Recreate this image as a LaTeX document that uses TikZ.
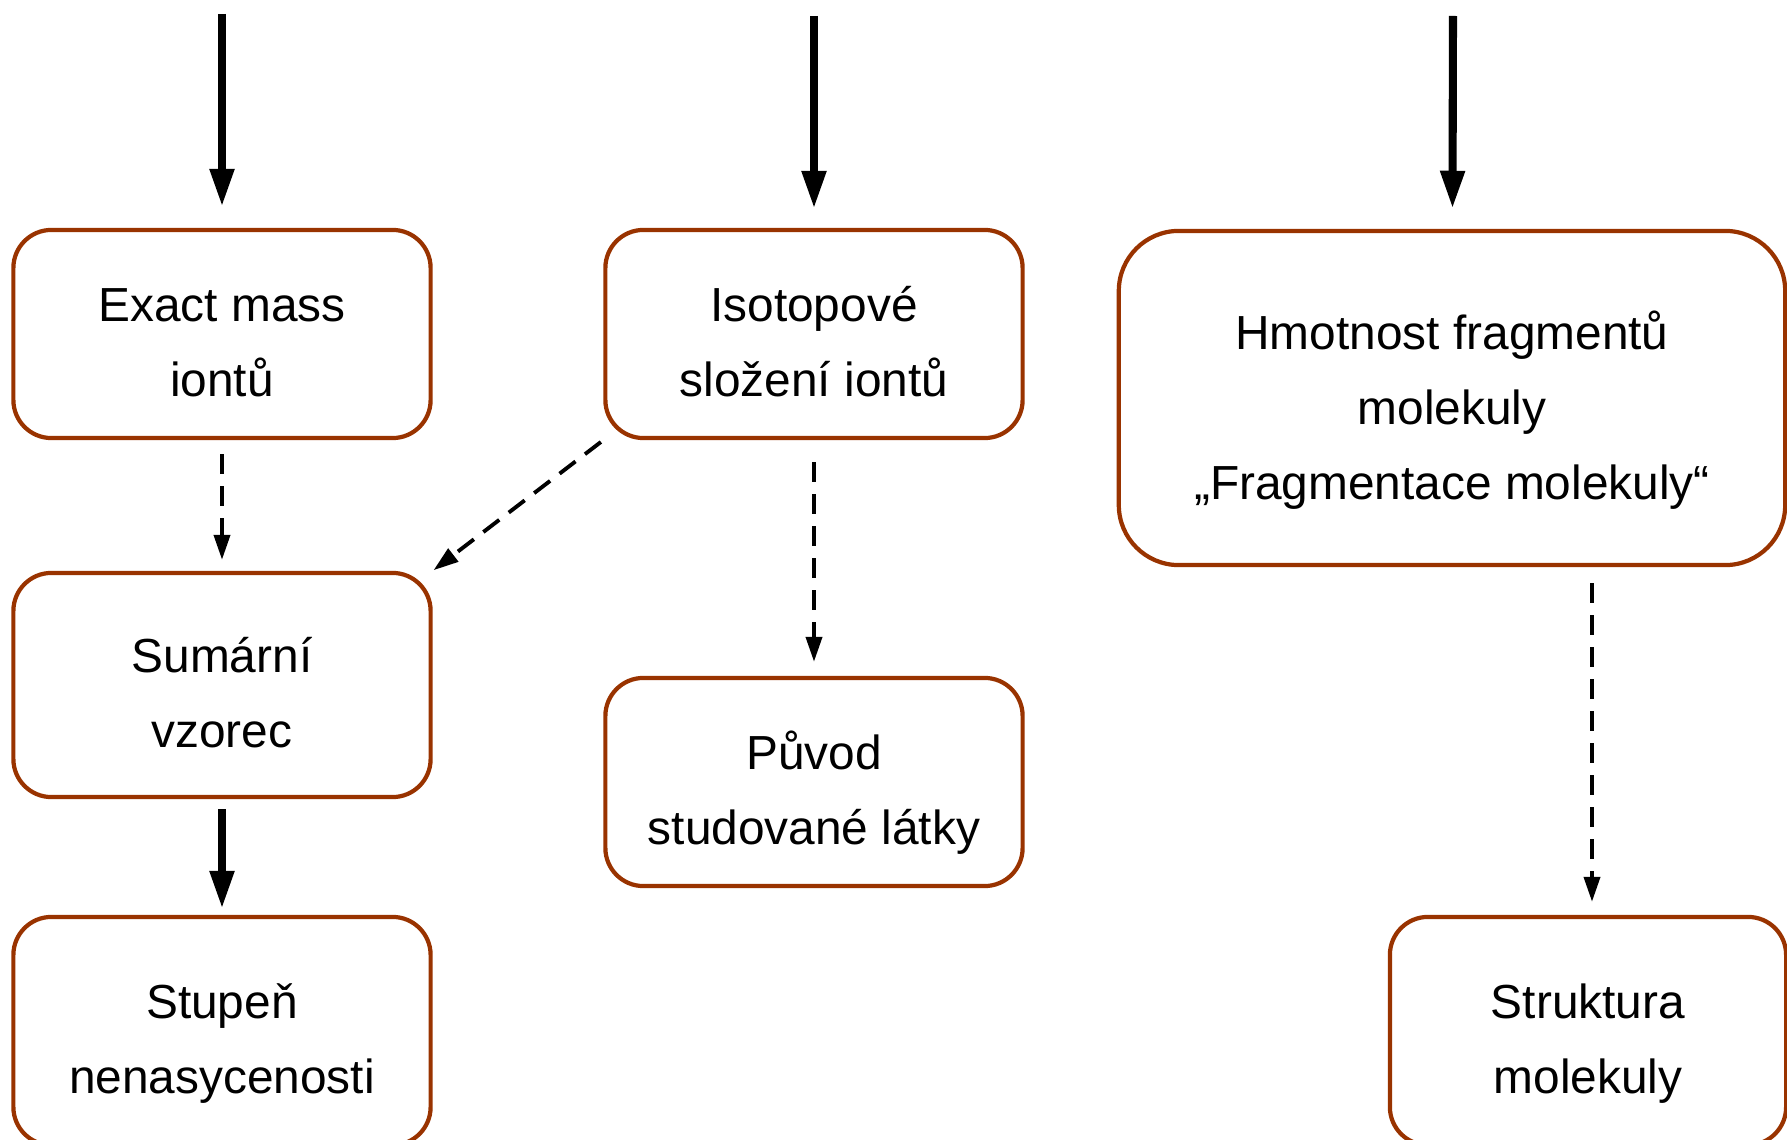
\documentclass[tikz,border=0pt]{standalone}
\usepackage{fontspec}
\setmainfont{Liberation Sans}
\usetikzlibrary{arrows.meta}
\definecolor{boxbrown}{RGB}{153,51,0}

\begin{document}
\begin{tikzpicture}[x=0.01cm,y=-0.01cm,
	main arrow/.style={-{Triangle[width=0.23cm,length=0.38cm]},line width=2.3pt},
	hint arrow/.style={-{Triangle[width=0.16cm,length=0.25cm]},line width=1.1pt,dash pattern=on 5.7pt off 3.4pt}]
	\useasboundingbox (0,0) rectangle (1787,1140);
	\begin{scope}[node font=\fontsize{13.6}{21.3}\selectfont]
		\begin{scope}[every node/.style={draw=boxbrown,line width=1.2pt,rounded corners=0.38cm,align=center,inner sep=0pt,minimum width=4.17cm,minimum height=2.08cm,text height=35.5pt,text depth=0pt}]
			\node (mass) at (222,334) {Exact mass\\iontů};
			\node (izotop) at (814,334) {Isotopové\\složení iontů};
			\node[minimum width=6.66cm,minimum height=3.34cm,rounded corners=0.6cm,text height=57.5pt] (frag) at (1452,398) {Hmotnost fragmentů\\molekuly\\„Fragmentace molekuly“};
			\node[minimum height=2.24cm] (vzorec) at (222,685) {Sumární\\vzorec};
			\node (puvod) at (814,782) {Původ\\studované látky};
			\node[minimum height=2.28cm] (stupen) at (222,1031) {Stupeň\\nenasycenosti};
			\node[minimum width=3.96cm,minimum height=2.28cm] (struktura) at (1588,1031) {Struktura\\molekuly};
		\end{scope}
		
		\coordinate (in1) at (222,14);
		\coordinate (in2) at (814,16);
		\coordinate (in3) at (1453,16);
	
		\path[main arrow] (in1) edge[shorten >=0.21cm] (mass);
		\path[main arrow] (in2) edge[shorten >=0.19cm] (izotop);
		\path[main arrow] (in3) edge[shorten >=0.20cm] (frag);
		\path[hint arrow] (mass) edge[shorten <=0.14cm,shorten >=0.11cm] (vzorec);
		\path[hint arrow] (izotop.south west) edge[shorten <=0.03cm,shorten >=0.01cm] (vzorec.north east);
		\path[hint arrow] (izotop) edge[shorten <=0.22cm,shorten >=0.14cm] (puvod);
		\path[main arrow] (vzorec) edge[shorten <=0.10cm,shorten >=0.06cm] (stupen);
		\path[hint arrow] ([xshift=0.04cm]frag.south -| struktura.north) edge[shorten <=0.16cm,shorten >=0.13cm] ([xshift=0.04cm]struktura.north);
	\end{scope}
\end{tikzpicture}
\end{document}
